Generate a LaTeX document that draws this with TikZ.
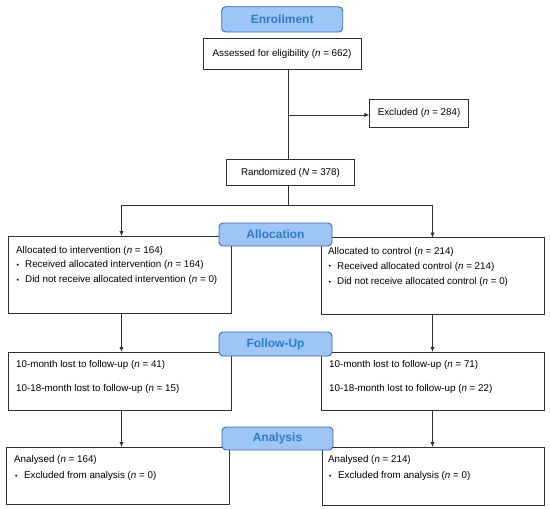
\documentclass[tikz,border=0pt]{standalone}
\usepackage{fontspec}
\setmainfont{Liberation Sans}
\usetikzlibrary{arrows.meta}
\definecolor{hdrfill}{HTML}{9DC6F6}
\definecolor{hdrdraw}{HTML}{3F6BA8}
\definecolor{hdrtext}{HTML}{2F7DC8}
\definecolor{linec}{HTML}{303030}
\newcommand{\nn}{\textit{n}}
\newcommand{\bul}{{\fontsize{7}{8}\selectfont •}}
\begin{document}
\begin{tikzpicture}[x=1pt,y=-1pt,
 box/.style={draw=linec, line width=0.9pt, fill=white, inner sep=0pt, outer sep=0pt, anchor=north west},
 hdr/.style={draw=hdrdraw, fill=hdrfill, rounded corners=4pt, line width=0.9pt, text=hdrtext, font=\fontsize{12}{14}\selectfont\bfseries, inner sep=0pt, outer sep=0pt, anchor=north west},
 txt/.style={anchor=west, font=\fontsize{9.8}{11}\selectfont, inner sep=0pt, text=black},
 ctxt/.style={anchor=center, font=\fontsize{9.8}{11}\selectfont, inner sep=0pt, text=black},
 bl/.style={anchor=west, inner sep=0pt, text=black},
 ln/.style={draw=linec, line width=0.9pt},
 arr/.style={draw=linec, line width=0.9pt, -{Latex[length=5pt,width=4.5pt]}}]
\useasboundingbox (0,0) rectangle (550,509);

% enrollment section
\node[box, minimum width=158pt, minimum height=31pt] (assess) at (203,38.3) {};
\node[ctxt] (assessT) at (assess.center) {Assessed for eligibility (\nn{} = 662)};
\node[box, minimum width=99.5pt, minimum height=28pt] (excl) at (369.3,99.3) {};
\node[ctxt] (exclT) at (excl.center) {Excluded (\nn{} = 284)};
\node[box, minimum width=127.5pt, minimum height=26.5pt] (rand) at (226.7,159.3) {};
\node[ctxt] (randT) at (rand.center) {Randomized (\textit{N} = 378)};

% allocation boxes
\node[box, minimum width=223pt, minimum height=77pt] (allocL) at (8,236) {};
\node[box, minimum width=223pt, minimum height=77pt] (allocR) at (321,237.5) {};
\node[txt] (aL1) at (16,250.7) {Allocated to intervention (\nn{} = 164)};
\node[bl]  (aL2b) at (16.5,265.5) {\bul};
\node[txt] (aL2) at (25,265) {Received allocated intervention (\nn{} = 164)};
\node[bl]  (aL3b) at (16.5,280.5) {\bul};
\node[txt] (aL3) at (25,280) {Did not receive allocated intervention (\nn{} = 0)};
\node[txt] (aR1) at (328,252) {Allocated to control (\nn{} = 214)};
\node[bl]  (aR2b) at (328.5,267.2) {\bul};
\node[txt] (aR2) at (337,266.7) {Received allocated control (\nn{} = 214)};
\node[bl]  (aR3b) at (328.5,282.5) {\bul};
\node[txt] (aR3) at (337,282) {Did not receive allocated control (\nn{} = 0)};

% follow-up boxes
\node[box, minimum width=223pt, minimum height=58pt] (folL) at (8,352) {};
\node[box, minimum width=223pt, minimum height=58pt] (folR) at (321,352) {};
\node[txt] (fL1) at (16,365) {10-month lost to follow-up (\nn{} = 41)};
\node[txt] (fL2) at (16,389) {10-18-month lost to follow-up (\nn{} = 15)};
\node[txt] (fR1) at (329,365) {10-month lost to follow-up (\nn{} = 71)};
\node[txt] (fR2) at (329,389) {10-18-month lost to follow-up (\nn{} = 22)};

% analysis boxes
\node[box, minimum width=223pt, minimum height=57pt] (anL) at (6,447) {};
\node[box, minimum width=222pt, minimum height=58pt] (anR) at (322,447) {};
\node[txt] (nL1) at (14,460) {Analysed (\nn{} = 164)};
\node[bl]  (nL2b) at (15,476.5) {\bul};
\node[txt] (nL2) at (24,476) {Excluded from analysis (\nn{} = 0)};
\node[txt] (nR1) at (328,460) {Analysed (\nn{} = 214)};
\node[bl]  (nR2b) at (329,476.5) {\bul};
\node[txt] (nR2) at (338,476) {Excluded from analysis (\nn{} = 0)};

% connectors
\coordinate (trunk) at (288,115);
\coordinate (split) at (288,205);
\draw[ln] (assess.south -| trunk) -- (rand.north -| trunk);
\draw[arr] (trunk) -- (trunk -| excl.west);
\draw[ln] (rand.south -| split) -- (split);
\coordinate (sl) at (121.5,205);
\coordinate (sr) at (432.5,205);
\draw[arr] (split) -- (sl) -- (sl |- allocL.north);
\draw[arr] (split) -- (sr) -- (sr |- allocR.north);
\draw[arr] (allocL.south -| sl) -- (folL.north -| sl);
\draw[arr] (allocR.south -| sr) -- (folR.north -| sr);
\draw[arr] (folL.south -| sl) -- (anL.north -| sl);
\draw[arr] (folR.south -| sr) -- (anR.north -| sr);

% headers
\node[hdr, minimum width=121pt, minimum height=25.3pt] (enr) at (221.7,6.7) {Enrollment};
\node[hdr, minimum width=113pt, minimum height=23pt] (allo) at (219,223) {Allocation};
\node[hdr, minimum width=113pt, minimum height=24pt] (follow) at (219,332) {Follow-Up};
\node[hdr, minimum width=111pt, minimum height=23pt] (anal) at (222,427) {Analysis};
\end{tikzpicture}
\end{document}
